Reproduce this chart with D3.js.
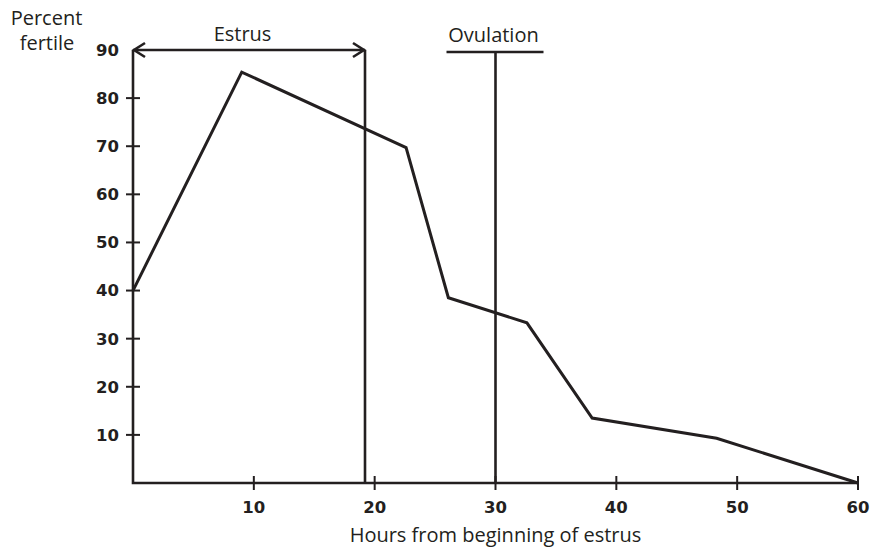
<!DOCTYPE html>
<html><head><meta charset="utf-8">
<script src="https://cdn.jsdelivr.net/npm/d3@7"></script>
<style>body{margin:0;background:#fff}svg{display:block}</style>
</head><body>
<script>
const hours = [0, 9, 22.6, 26.1, 32.6, 38.0, 48.3, 60];
const fertile = [40, 85.4, 69.7, 38.5, 33.3, 13.5, 9.3, 0];
const xTicks = [10, 20, 30, 40, 50, 60];
const yTicks = [10, 20, 30, 40, 50, 60, 70, 80, 90];
const estrusEnd = 19.2;
const ovulation = 30;

const W = 872, H = 551;
const svg = d3.select("body").append("svg").attr("width", W).attr("height", H);
const x = d3.scaleLinear().domain([0, 60]).range([133, 858]);
const y = d3.scaleLinear().domain([0, 90]).range([483, 50]);
const ink = "#231f20";

// axes
svg.append("path").attr("d", `M${x(0)},${y(90)}V${y(0)}H${x(60)}`)
  .attr("fill", "none").attr("stroke", ink).attr("stroke-width", 2.6);

const tickFont = "'DejaVu Sans', sans-serif";
yTicks.forEach(t => {
  if (t < 90) svg.append("line").attr("x1", x(0) - 7).attr("x2", x(0) + 7)
    .attr("y1", y(t)).attr("y2", y(t)).attr("stroke", ink).attr("stroke-width", 2);
  svg.append("text").attr("x", x(0) - 14).attr("y", y(t)).attr("dy", "0.36em")
    .attr("text-anchor", "end").attr("font-family", tickFont).attr("font-weight", "bold")
    .attr("font-size", 16.5).attr("fill", ink).text(t);
});
xTicks.forEach(t => {
  svg.append("line").attr("x1", x(t)).attr("x2", x(t))
    .attr("y1", y(0) - 7).attr("y2", y(0) + 7).attr("stroke", ink).attr("stroke-width", 2);
  svg.append("text").attr("x", x(t)).attr("y", y(0) + 30)
    .attr("text-anchor", "middle").attr("font-family", tickFont).attr("font-weight", "bold")
    .attr("font-size", 16.5).attr("fill", ink).text(t);
});

// estrus bracket
svg.append("line").attr("x1", x(0)).attr("x2", x(estrusEnd)).attr("y1", y(90)).attr("y2", y(90))
  .attr("stroke", ink).attr("stroke-width", 2.6);
svg.append("line").attr("x1", x(estrusEnd)).attr("x2", x(estrusEnd)).attr("y1", y(90)).attr("y2", y(0))
  .attr("stroke", ink).attr("stroke-width", 2.6);
svg.append("path").attr("d", `M${x(0)+12},${y(90)-7}L${x(0)+1},${y(90)}L${x(0)+12},${y(90)+7}`)
  .attr("fill", "none").attr("stroke", ink).attr("stroke-width", 2.6);
svg.append("path").attr("d", `M${x(estrusEnd)-12},${y(90)-7}L${x(estrusEnd)-1},${y(90)}L${x(estrusEnd)-12},${y(90)+7}`)
  .attr("fill", "none").attr("stroke", ink).attr("stroke-width", 2.6);

// ovulation T
svg.append("line").attr("x1", x(ovulation) - 49).attr("x2", x(ovulation) + 48)
  .attr("y1", y(90) + 2).attr("y2", y(90) + 2).attr("stroke", ink).attr("stroke-width", 2.6);
svg.append("line").attr("x1", x(ovulation)).attr("x2", x(ovulation))
  .attr("y1", y(90) + 2).attr("y2", y(0)).attr("stroke", ink).attr("stroke-width", 2.6);

// data line
const data = hours.map((h, i) => [h, fertile[i]]);
svg.append("path").datum(data)
  .attr("d", d3.line().x(d => x(d[0])).y(d => y(d[1])))
  .attr("fill", "none").attr("stroke", ink).attr("stroke-width", 3).attr("stroke-linejoin", "miter");

// labels
const lf = "'Open Sans', 'Noto Sans', sans-serif";
const lab = (tx, px, py) => svg.append("text").attr("x", px).attr("y", py)
  .attr("text-anchor", "middle").attr("font-family", lf).attr("font-size", 20).attr("fill", ink).text(tx);
lab("Percent", 46.5, 25);
lab("fertile", 47, 50);
lab("Estrus", 242.5, 41);
lab("Ovulation", x(ovulation) - 2, 42);
lab("Hours from beginning of estrus", x(30), 542);
</script>
</body></html>
